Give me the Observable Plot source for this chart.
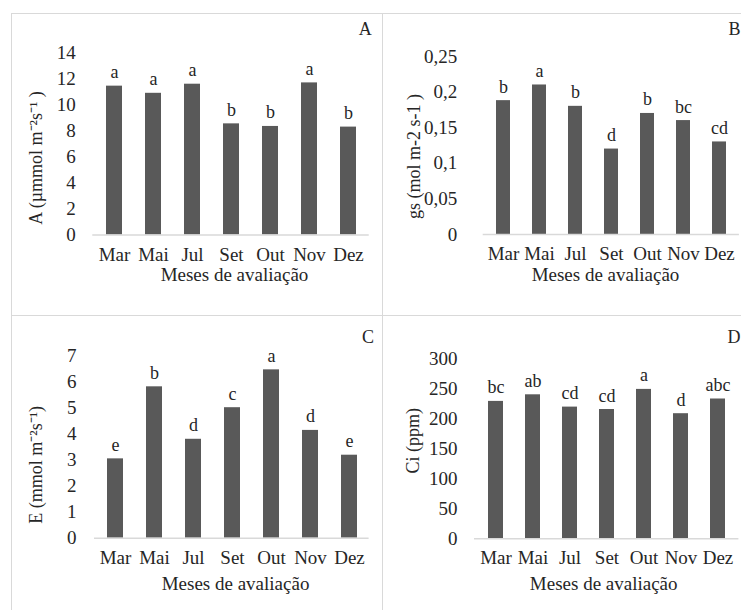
<!DOCTYPE html>
<html>
<head>
<meta charset="utf-8">
<script src="https://cdn.jsdelivr.net/npm/d3@7"></script>
<script src="https://cdn.jsdelivr.net/npm/@observablehq/plot@0.6"></script>
<style>
  body { margin: 0; background: #fff; }
  #fig { position: relative; width: 741px; height: 610px; overflow: hidden; background: #fff; }
  #fig svg, #fig svg text { font-family: "Liberation Serif", "Times New Roman", serif !important; }
  .panel { position: absolute; }
  .rule { position: absolute; background: #d9d9d9; }
</style>
</head>
<body>
<div id="fig"></div>
<script>
// Evaluation months (shared x categories)
const months = ["Mar", "Mai", "Jul", "Set", "Out", "Nov", "Dez"];
const xTitle = "Meses de avaliação";

// A – net photosynthesis
const photoA = [11.45, 10.9, 11.6, 8.55, 8.35, 11.7, 8.3];
const lettersA = ["a", "a", "a", "b", "b", "a", "b"];
const ticksA = [0, 2, 4, 6, 8, 10, 12, 14];

// B – stomatal conductance
const condGs = [0.188, 0.21, 0.18, 0.12, 0.17, 0.16, 0.13];
const lettersB = ["b", "a", "b", "d", "b", "bc", "cd"];
const ticksB = [0, 0.05, 0.1, 0.15, 0.2, 0.25];

// C – transpiration
const transpE = [3.04, 5.8, 3.79, 5.0, 6.45, 4.13, 3.18];
const lettersC = ["e", "b", "d", "c", "a", "d", "e"];
const ticksC = [0, 1, 2, 3, 4, 5, 6, 7];

// D – internal CO2 concentration
const internalCi = [229, 240, 219.5, 215.5, 249, 208.5, 233];
const lettersD = ["bc", "ab", "cd", "cd", "a", "d", "abc"];
const ticksD = [0, 50, 100, 150, 200, 250, 300];

const serif = "Liberation Serif";
const ink = "#262626";
const barFill = "#595959";
const comma = d => String(d).replace(".", ",");

const fig = document.getElementById("fig");

// light panel separators
[
  {left: 11, top: 13, width: 730, height: 1},
  {left: 11, top: 315, width: 730, height: 1},
  {left: 11, top: 13, width: 1, height: 597},
  {left: 382, top: 13, width: 1, height: 597}
].forEach(r => {
  const d = document.createElement("div");
  d.className = "rule";
  Object.assign(d.style, {left: r.left + "px", top: r.top + "px", width: r.width + "px", height: r.height + "px"});
  fig.appendChild(d);
});

function panel(cfg) {
  const rows = months.map((m, i) => ({month: m, value: cfg.values[i], letter: cfg.letters[i]}));
  const chart = Plot.plot({
    width: cfg.w,
    height: cfg.h,
    marginLeft: cfg.ml,
    marginRight: cfg.mr,
    marginTop: cfg.mt,
    marginBottom: cfg.mb,
    style: {fontFamily: serif, fontSize: "19px", color: ink, background: "transparent", overflow: "visible"},
    x: {domain: months, paddingInner: 0.6, paddingOuter: 0.3, label: null, tickSize: 0, tickPadding: 12},
    y: {domain: cfg.domain, ticks: cfg.ticks, tickFormat: cfg.fmt, label: null, tickSize: 0, tickPadding: cfg.tp},
    marks: [
      Plot.barY(rows, {x: "month", y: "value", fill: barFill}),
      Plot.ruleY([0], {stroke: "#d9d9d9", strokeWidth: 1.5}),
      Plot.text(rows, {x: "month", y: "value", text: "letter", lineAnchor: "bottom", dy: -8, fill: ink, fontFamily: serif, fontSize: 18}),
      Plot.text([cfg.yLabel], {frameAnchor: "left", textAnchor: "middle", rotate: -90, dx: cfg.ldx, dy: cfg.ldy, fill: ink, fontFamily: serif, fontSize: 18}),
      Plot.text([xTitle], {frameAnchor: "bottom", textAnchor: "middle", dx: cfg.tdx, dy: cfg.tdy, lineAnchor: "middle", fill: ink, fontFamily: serif, fontSize: 19}),
      Plot.text([cfg.tag], {frameAnchor: "top-right", textAnchor: "middle", dx: cfg.gdx, dy: cfg.gdy, lineAnchor: "middle", fill: ink, fontFamily: serif, fontSize: 18})
    ]
  });
  const holder = document.createElement("div");
  holder.className = "panel";
  holder.style.left = cfg.left + "px";
  holder.style.top = cfg.top + "px";
  holder.appendChild(chart);
  fig.appendChild(holder);
}

panel({
  values: photoA, letters: lettersA, ticks: ticksA, domain: [0, 14], fmt: d => String(d),
  yLabel: "A (µmmol m⁻²s⁻¹ )", tag: "A",
  left: 11, top: 13, w: 370, h: 302, ml: 81.25, mr: 12.25, mt: 39.5, mb: 80.5, tp: 17,
  ldx: -56.5, ldy: 14, tdx: 3.5, tdy: 40, gdx: -4, gdy: -23.5
});

panel({
  values: condGs, letters: lettersB, ticks: ticksB, domain: [0, 0.25], fmt: comma,
  yLabel: "gs (mol m-2 s-1 )", tag: "B",
  left: 382, top: 13, w: 359, h: 302, ml: 100.7, mr: 2.1, mt: 43, mb: 81, tp: 26,
  ldx: -68.7, ldy: 11, tdx: -5.8, tdy: 40.3, gdx: -5, gdy: -27
});

panel({
  values: transpE, letters: lettersC, ticks: ticksC, domain: [0, 7], fmt: d => String(d),
  yLabel: "E (mmol m⁻²s⁻¹)", tag: "C",
  left: 11, top: 315, w: 370, h: 295, ml: 83, mr: 12.4, mt: 40, mb: 72.3, tp: 18,
  ldx: -58.3, ldy: 18, tdx: 3.75, tdy: 46, gdx: -1, gdy: -18.3
});

panel({
  values: internalCi, letters: lettersD, ticks: ticksD, domain: [0, 300], fmt: d => String(d),
  yLabel: "Ci (ppm)", tag: "D",
  left: 382, top: 315, w: 359, h: 295, ml: 92, mr: 2.6, mt: 43.3, mb: 71.7, tp: 17,
  ldx: -61.5, ldy: -8, tdx: -3, tdy: 45.5, gdx: -5, gdy: -21.6
});
</script>
</body>
</html>
